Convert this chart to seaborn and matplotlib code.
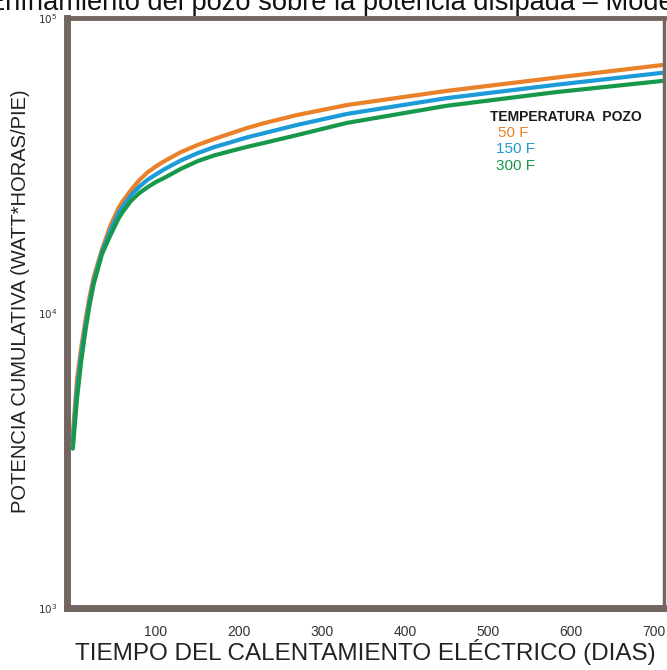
import matplotlib
matplotlib.use("Agg")
import matplotlib.pyplot as plt
import numpy as np
import pandas as pd
import seaborn as sns

# days of electric heating
dias = [0, 5, 10, 15, 20, 25, 35, 45, 55, 60, 70, 80, 90, 100, 110, 130,
        150, 170, 190, 210, 230, 270, 330, 450, 580, 710]

# cumulative power (watt*hr/ft)
pot_50f = [3900, 5960, 7600, 9400, 11300, 13200, 16400, 19700, 22700, 23900,
           26100, 28200, 30000, 31400, 32700, 35100, 37100, 38900, 40600,
           42400, 44000, 46900, 50700, 56600, 62700, 69300]
pot_150f = [3670, 5520, 7210, 8980, 10900, 12800, 16100, 19000, 21800, 22900,
            25100, 26800, 28300, 29500, 30700, 32900, 34800, 36500, 37900,
            39400, 40700, 43400, 47300, 53500, 59300, 65200]
pot_300f = [3470, 5130, 6840, 8650, 10600, 12500, 15800, 18300, 20900, 22000,
            24000, 25500, 26700, 27800, 28700, 30800, 32700, 34200, 35400,
            36600, 37700, 40100, 44100, 50400, 56000, 61200]

series = ["50 F", "150 F", "300 F"]
colores = ["#ea8128", "#1d9bd8", "#18984a"]
x_ticks = [100, 200, 300, 400, 500, 600, 700]
y_ticks = [1e3, 1e4, 1e5]
y_tick_labels = [r"$10^3$", r"$10^4$", r"$10^5$"]

df = pd.DataFrame({
    "dias": dias * 3,
    "potencia": pot_50f + pot_150f + pot_300f,
    "temp": [s for s in series for _ in dias],
})

sns.set_theme(style="white")
plt.rcParams["font.family"] = ["Liberation Sans", "DejaVu Sans"]

fig = plt.figure(figsize=(6.67, 6.70), dpi=100)
ax = fig.add_axes([0.1005, 0.0925, 0.895, 0.8806])

sns.lineplot(data=df, x="dias", y="potencia", hue="temp", hue_order=series,
             palette=colores, linewidth=3.0, legend=False, ax=ax)

ax.set_yscale("log")
ax.set_xlim(-7, 712)
ax.set_ylim(1e3, 1e5)
ax.set_xticks(x_ticks)
ax.set_xticklabels([str(t) for t in x_ticks], fontsize=10, color="#333333")
ax.set_yticks(y_ticks)
ax.set_yticklabels(y_tick_labels, fontsize=7.5, color="#333333")
ax.minorticks_off()
ax.tick_params(axis="both", length=0)
ax.tick_params(axis="y", pad=7)
ax.tick_params(axis="x", pad=12)

frame = "#736660"
for side, lw in [("left", 5), ("bottom", 5), ("top", 3.5), ("right", 2.5)]:
    ax.spines[side].set_visible(True)
    ax.spines[side].set_color(frame)
    ax.spines[side].set_linewidth(lw)

ax.set_xlabel("TIEMPO DEL CALENTAMIENTO ELÉCTRICO (DIAS)", fontsize=17.5,
              color="#222222", labelpad=0)
ax.set_ylabel("POTENCIA CUMULATIVA (WATT*HORAS/PIE)", fontsize=14.5,
              color="#222222")
ax.yaxis.set_label_coords(-0.062, 0.52)

# legend drawn as text, like the original
ax.text(0.709, 0.832, "TEMPERATURA  POZO", transform=ax.transAxes,
        fontsize=10, fontweight="bold", color="#1a1a1a", va="center")
for lbl, col, xx, yy in zip(series, colores, [0.722, 0.719, 0.719], [0.805, 0.778, 0.749]):
    ax.text(xx, yy, lbl, transform=ax.transAxes, fontsize=11, color=col, va="center")

fig.text(-0.02, 0.985, "Enfriamiento del pozo sobre la potencia disipada – Modelo",
         fontsize=19.6, color="#111111", ha="left", va="baseline")

fig.savefig("out.png", dpi=100)
